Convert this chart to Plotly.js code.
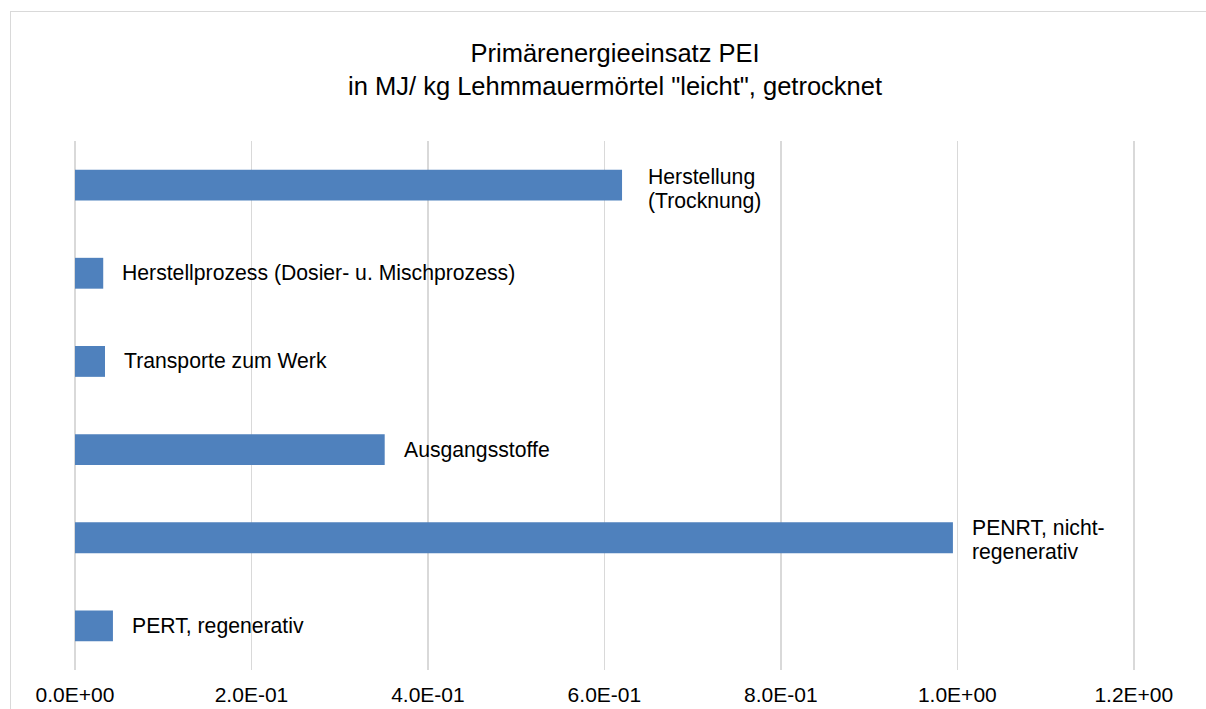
<!DOCTYPE html>
<html>
<head>
<meta charset="utf-8">
<script src="https://cdn.plot.ly/plotly-3.0.1.min.js"></script>
<style>
  html, body { margin: 0; padding: 0; background: #fff; overflow: hidden; }
  #frame { position: absolute; left: 10px; top: 11px; width: 1300px; height: 800px; border: 1.5px solid #d9d9d9; }
  #chart { position: absolute; left: 0; top: 0; width: 1206px; height: 709px; }
</style>
</head>
<body>
<div id="frame"></div>
<div id="chart"></div>
<script>
// Categories, top to bottom
const categories = [
  "Herstellung (Trocknung)",
  "Herstellprozess (Dosier- u. Mischprozess)",
  "Transporte zum Werk",
  "Ausgangsstoffe",
  "PENRT, nicht-regenerativ",
  "PERT, regenerativ"
];
// Values in MJ / kg
const values = [0.620, 0.032, 0.034, 0.351, 0.995, 0.043];
// Data label text as shown next to the bars (one entry per line)
const labels = [
  ["Herstellung", "(Trocknung)"],
  ["Herstellprozess (Dosier- u. Mischprozess)"],
  ["Transporte zum Werk"],
  ["Ausgangsstoffe"],
  ["PENRT, nicht-", "regenerativ"],
  ["PERT, regenerativ"]
];
const tickVals = [0, 0.2, 0.4, 0.6, 0.8, 1.0, 1.2];
const tickText = ["0.0E+00", "2.0E-01", "4.0E-01", "6.0E-01", "8.0E-01", "1.0E+00", "1.2E+00"];
const titleText = "Primärenergieeinsatz PEI<br>in MJ/ kg Lehmmauermörtel \"leicht\", getrocknet";

const FONT = '"Liberation Sans", Arial, sans-serif';
const LABEL_SIZE = 21.2;
const LINE_STEP = 24;

const trace = {
  type: 'bar',
  orientation: 'h',
  x: values,
  y: categories,
  marker: { color: '#4F81BD', line: { width: 0 } },
  hoverinfo: 'x+y'
};

const annotations = [];
categories.forEach((c, i) => {
  const lines = labels[i];
  const n = lines.length;
  lines.forEach((t, k) => {
    annotations.push({
      x: values[i],
      y: c,
      xref: 'x',
      yref: 'y',
      text: t,
      showarrow: false,
      xanchor: 'left',
      yanchor: 'middle',
      align: 'left',
      xshift: n > 1 && i === 0 ? 24 : 17,
      yshift: ((n - 1) / 2 - k) * LINE_STEP - (n > 1 ? (i === 0 ? 4 : 2) : 0),
      font: { family: FONT, size: LABEL_SIZE, color: '#000' }
    });
  });
});

const layout = {
  width: 1206,
  height: 709,
  margin: { l: 75, r: 70, t: 141, b: 39 },
  paper_bgcolor: 'rgba(0,0,0,0)',
  plot_bgcolor: 'rgba(0,0,0,0)',
  showlegend: false,
  bargap: 0.65,
  font: { family: FONT, size: 21, color: '#000' },
  title: {
    text: titleText,
    x: 0.51,
    xref: 'container',
    xanchor: 'center',
    y: 1 - 62 / 709,
    yref: 'container',
    yanchor: 'middle',
    font: { family: FONT, size: 25.5, color: '#000' }
  },
  xaxis: {
    range: [0, 1.2025],
    tickvals: tickVals,
    ticktext: tickText,
    showgrid: true,
    gridcolor: '#d9d9d9',
    gridwidth: 1.5,
    zeroline: true,
    zerolinecolor: '#d9d9d9',
    zerolinewidth: 1.5,
    showline: false,
    ticks: '',
    ticklabelstandoff: 10,
    tickfont: { family: FONT, size: 21, color: '#000' },
    fixedrange: true
  },
  yaxis: {
    autorange: 'reversed',
    showticklabels: false,
    showgrid: false,
    zeroline: false,
    showline: false,
    ticks: '',
    fixedrange: true
  },
  annotations: annotations
};

Plotly.newPlot('chart', [trace], layout, { displayModeBar: false, staticPlot: true });
</script>
</body>
</html>
